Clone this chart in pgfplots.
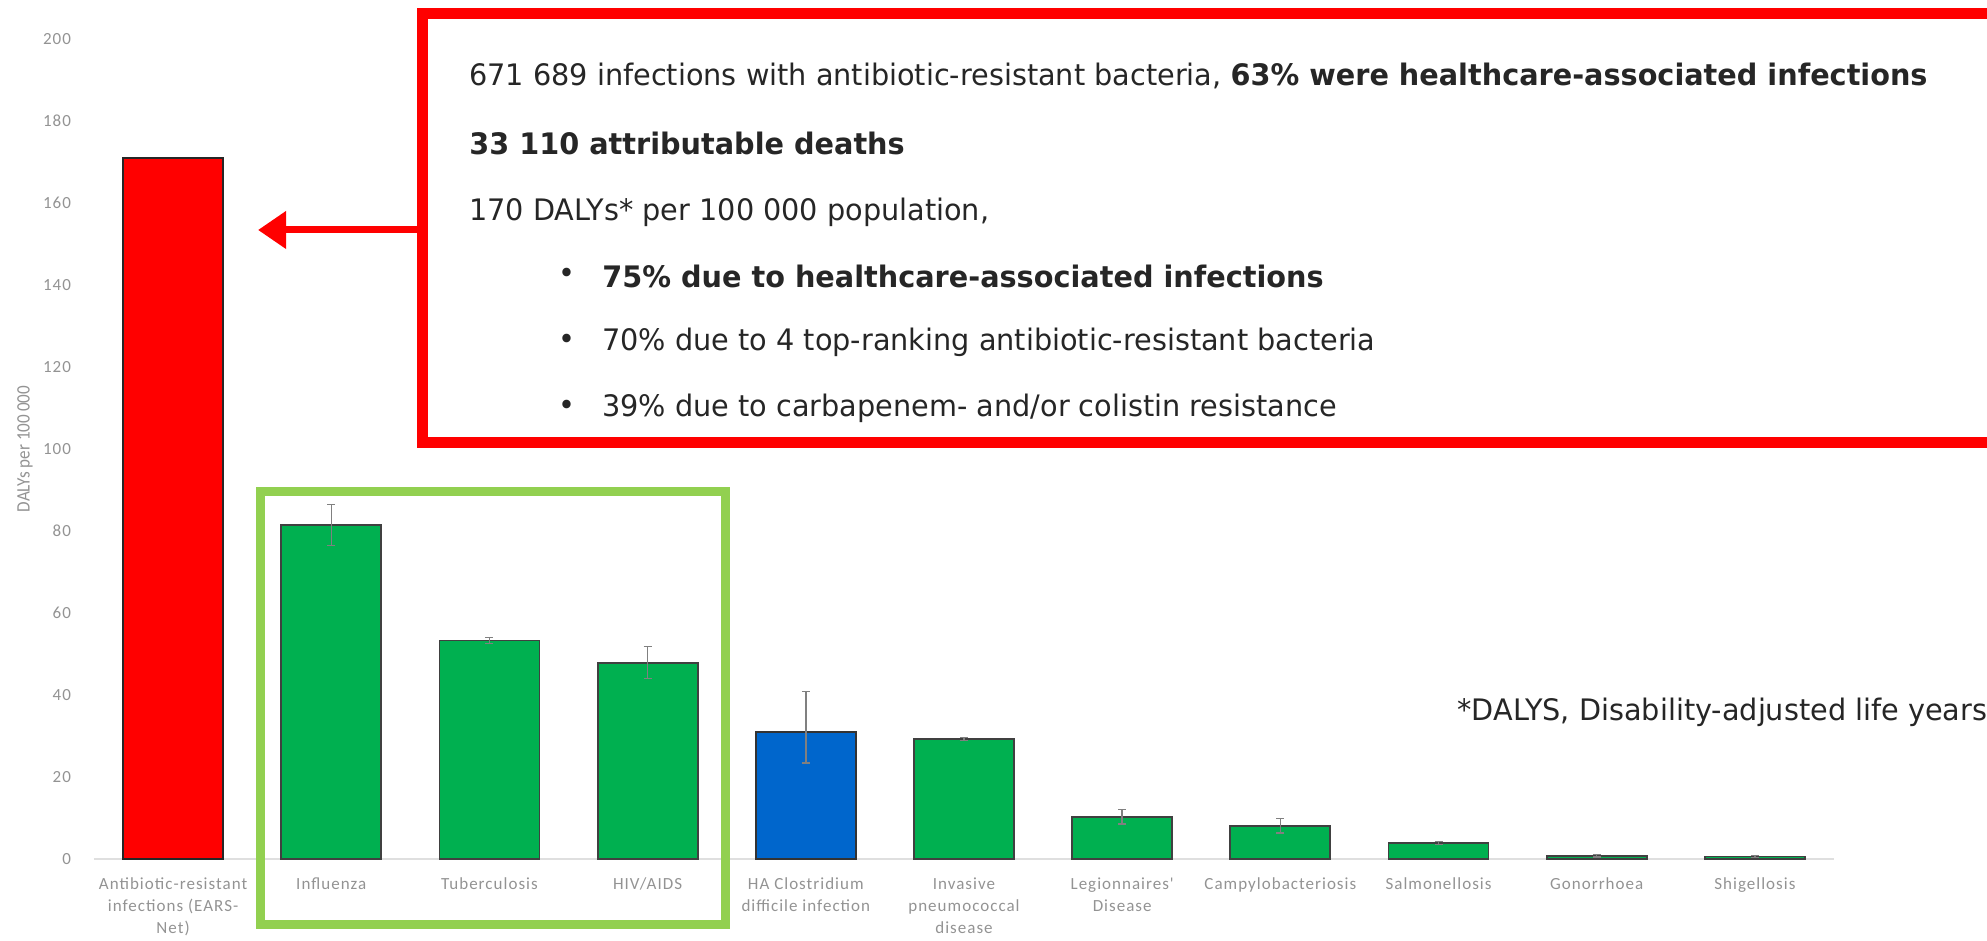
\documentclass[border=0pt]{standalone}
\usepackage{fontspec}
\usepackage{pgfplots}
\pgfplotsset{compat=1.18}
\usetikzlibrary{arrows.meta}
\setmainfont{DejaVu Sans}
\newfontfamily\boxfont{DejaVu Sans}[FakeStretch=0.97]
\newfontfamily\tickfont{Carlito}[LetterSpace=6]
\newfontfamily\labfont{Carlito}[FakeStretch=0.9]
\definecolor{barred}{HTML}{FF0000}
\definecolor{bargreen}{HTML}{00B050}
\definecolor{barblue}{HTML}{0066CC}
\definecolor{boxgreen}{HTML}{92D050}
\definecolor{txt}{HTML}{262626}
\begin{document}
\begin{tikzpicture}
\useasboundingbox (0,0) rectangle (993.5pt,470.5pt);
\clip (0,0) rectangle (993.5pt,470.5pt);
\begin{axis}[
  at={(47pt,41pt)}, anchor=south west,
  scale only axis, width=870pt, height=410pt,
  xmin=-0.5, xmax=10.5, ymin=0, ymax=200,
  ytick={0,20,...,200},
  xtick={0,...,10},
  xticklabels={{Antibiotic-resistant\\infections (EARS-\\Net)},Influenza,Tuberculosis,HIV/AIDS,{HA Clostridium\\difficile infection},{Invasive\\pneumococcal\\disease},{Legionnaires'\\Disease},Campylobacteriosis,Salmonellosis,Gonorrhoea,Shigellosis},
  axis x line=bottom,
  axis y line=left,
  y axis line style={draw=none},
  x axis line style={gray!25, line width=0.6pt, -},
  major tick length=0pt,
  /pgf/number format/assume math mode=true,
  xticklabel style={font=\tickfont\fontsize{8.5}{11}\selectfont, text=gray!85, align=center, anchor=north, yshift=-6pt},
  yticklabel style={font=\tickfont\fontsize{8.5}{10}\selectfont, text=gray!85, anchor=east, xshift=-8pt},
  ylabel={DALYs per 100\,000},
  every axis y label/.style={at={(axis description cs:0,0.5)}, xshift=-34.5pt, rotate=90, anchor=center, font=\labfont\fontsize{9.5}{10}\selectfont, text=gray!85},
  ybar, bar width=50pt,
  /pgf/bar shift=0pt,
  error bars/y dir=both, error bars/y explicit,
  error bars/error bar style={gray, line width=0.7pt},
  error bars/error mark options={rotate=90, mark size=2pt, gray, line width=0.7pt},
  clip=false,
]
\addplot[fill=barred, draw=black!85, line width=0.9pt] coordinates {(0,171)};
\addplot[fill=bargreen, draw=black!75, line width=0.9pt] coordinates {
 (1,81.5) +- (0,5.0)
 (2,53.3) +- (0,0.7)
 (3,47.9) +- (0,3.9)
 (5,29.3) +- (0,0.4)
 (6,10.3) +- (0,1.8)
 (7,8.1) +- (0,1.8)
 (8,3.9) +- (0,0.3)
 (9,0.8) +- (0,0.3)
 (10,0.6) +- (0,0.2)
};
\addplot[fill=barblue, draw=black!80, line width=0.9pt] coordinates {
 (4,31.0) += (0,9.8) -= (0,7.6)
};
\end{axis}
% green highlight box
\draw[boxgreen, line width=4.5pt] (130pt,8pt) rectangle (362.5pt,224.5pt);
% red annotation box
\draw[barred, line width=5.5pt] (211pt,249pt) rectangle (1010pt,463.5pt);
\draw[barred, line width=3.5pt, -{Triangle[length=14pt,width=18pt]}] (211pt,355.5pt) -- (129pt,355.5pt);
\begin{scope}[every node/.style={anchor=west, inner sep=0pt, text=txt, font=\boxfont\fontsize{14.8}{16}\selectfont}]
\node at (234.5pt,432.5pt) {671 689 infections with antibiotic-resistant bacteria, \textbf{63\% were healthcare-associated infections}};
\node at (234.5pt,399pt) {\textbf{33 110 attributable deaths}};
\node at (234.5pt,364.5pt) {170 DALYs* per 100 000 population,};
\node at (279pt,332.5pt) {\textbullet};
\node at (279pt,299.5pt) {\textbullet};
\node at (279pt,266.5pt) {\textbullet};
\node at (301pt,332.5pt) {\textbf{75\% due to healthcare-associated infections}};
\node at (301pt,299.5pt) {70\% due to 4 top-ranking antibiotic-resistant bacteria};
\node at (301pt,266.5pt) {39\% due to carbapenem- and/or colistin resistance};
\node at (728.5pt,114.5pt) {*DALYS, Disability-adjusted life years};
\end{scope}
\end{tikzpicture}
\end{document}
